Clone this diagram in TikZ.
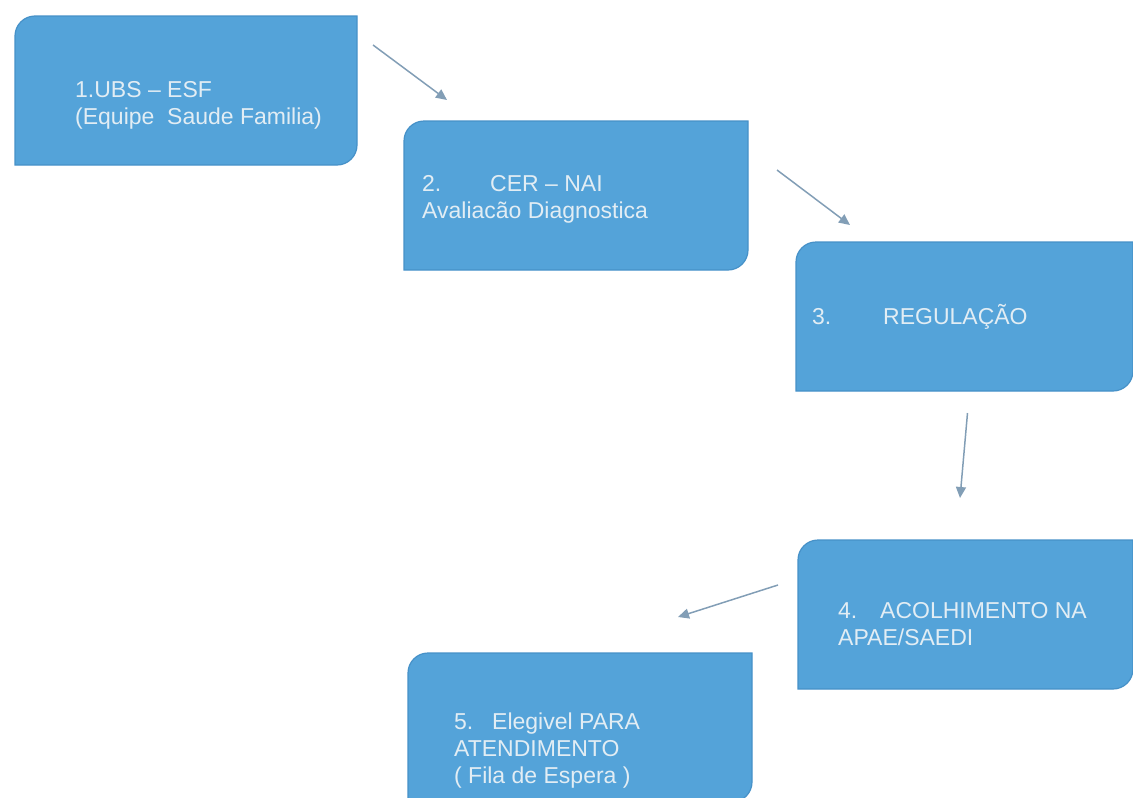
\documentclass[tikz,border=0pt]{standalone}
\usepackage{fontspec}
\setmainfont{Liberation Sans}
\usetikzlibrary{arrows.meta,backgrounds}
\definecolor{boxBlue}{RGB}{84,163,217}
\definecolor{boxEdge}{RGB}{70,145,200}
\definecolor{arrowGray}{RGB}{130,158,182}
\definecolor{textWhite}{RGB}{226,237,244}

\begin{document}
\begin{tikzpicture}
[x=1pt,y=1pt,
  nodeDecorate/.style={shape=rectangle,inner sep=0pt,outer sep=0pt,minimum height=149},
  boxDecorate/.style={fill=boxBlue,draw=boxEdge,line width=1.2pt},
  textDecorate/.style={anchor=west,align=left,inner sep=0pt,text=textWhite,
    font=\fontsize{23}{27}\selectfont},
  lineDecorate/.style={-{Triangle[length=11pt,width=10pt]},line width=1.5pt,draw=arrowGray}]
\useasboundingbox (0,0) rectangle (1133,-798);
%% boxes
\foreach \nodename/\x/\y/\w in {
  b1/186/-90.5/342,
  b2/576/-195.5/344,
  b3/964.5/-316.5/337,
  b4/965.5/-614.5/335,
  b5/580/-727.5/344}
{
  \node (\nodename) at (\x,\y) [nodeDecorate,minimum width=\w] {};
  \filldraw[boxDecorate] (\nodename.south west)
    -- ([yshift=-20]\nodename.north west) arc[start angle=180,end angle=90,radius=20]
    -- (\nodename.north east)
    -- ([yshift=20]\nodename.south east) arc[start angle=0,end angle=-90,radius=20]
    -- cycle;
}
%% texts
\node (t1) at ([xshift=60,yshift=-15]b1.west) [textDecorate]
  {1.UBS -- ESF\\(Equipe\ \ Saude Familia)};
\node (t2) at ([xshift=18,yshift=-3.5]b2.west) [textDecorate]
  {\makebox[68pt][l]{2.}CER -- NAI\\Avaliacão Diagnostica};
\node (t3) at ([xshift=16]b3.west) [textDecorate]
  {\makebox[71pt][l]{3.}REGULAÇÃO};
\node (t4) at ([xshift=40,yshift=-9.5]b4.west) [textDecorate]
  {\makebox[42pt][l]{4.}ACOLHIMENTO NA\\APAE/SAEDI};
\node (t5) at ([xshift=46,yshift=-23.5]b5.west) [textDecorate]
  {\makebox[38pt][l]{5.}Elegivel PARA\\ATENDIMENTO\\( Fila de Espera )};
%% arrows
\draw[lineDecorate] ([shift={(16,-29)}]b1.north east) -- ([shift={(43,21)}]b2.north west);
\draw[lineDecorate] ([shift={(29,-49)}]b2.north east) -- ([shift={(54,17)}]b3.north west);
\draw[lineDecorate] ([shift={(3,-22)}]b3.south) -- ([shift={(-5.5,42)}]b4.north);
\draw[lineDecorate] ([shift={(-20,29.5)}]b4.west) -- ([shift={(98,36)}]b5.north);
\end{tikzpicture}
\end{document}
